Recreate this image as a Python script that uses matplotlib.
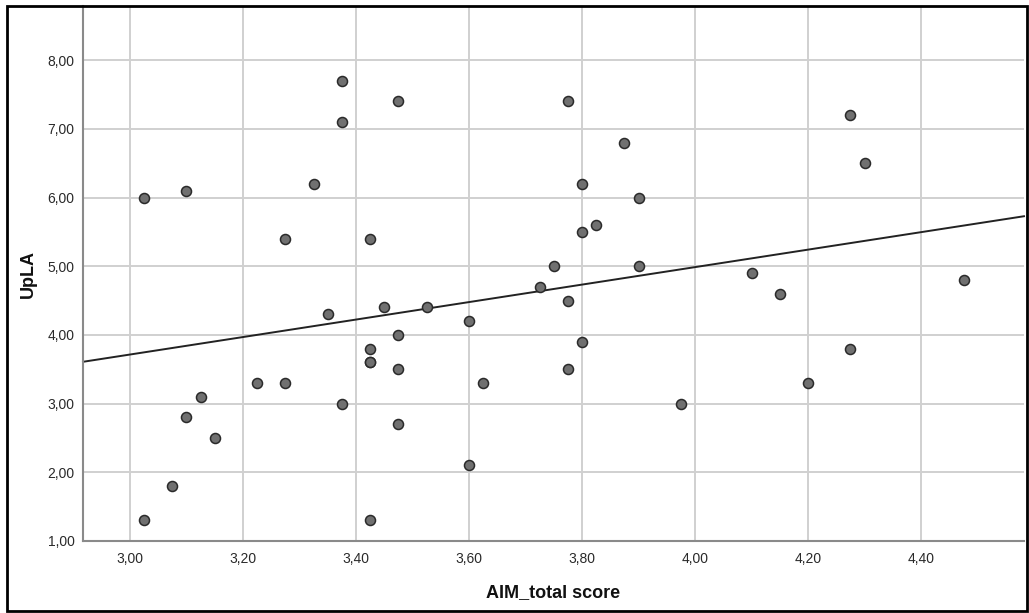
import matplotlib
matplotlib.use("Agg")
import matplotlib.pyplot as plt
from matplotlib.patches import Rectangle
import numpy as np

# Data
aim_total = [3.025, 3.025, 3.075, 3.100, 3.100, 3.125, 3.150, 3.225, 3.275, 3.275,
             3.325, 3.350, 3.375, 3.375, 3.375, 3.425, 3.425, 3.425, 3.425, 3.425,
             3.450, 3.475, 3.475, 3.475, 3.475, 3.525, 3.600, 3.600, 3.625, 3.725,
             3.750, 3.775, 3.775, 3.775, 3.800, 3.800, 3.800, 3.825, 3.875, 3.900,
             3.900, 3.975, 4.100, 4.150, 4.200, 4.275, 4.275, 4.300, 4.475]
upla = [6.0, 1.3, 1.8, 6.1, 2.8, 3.1, 2.5, 3.3, 5.4, 3.3,
        6.2, 4.3, 7.7, 7.1, 3.0, 5.4, 3.8, 3.6, 3.6, 1.3,
        4.4, 7.4, 4.0, 3.5, 2.7, 4.4, 4.2, 2.1, 3.3, 4.7,
        5.0, 7.4, 4.5, 3.5, 6.2, 5.5, 3.9, 5.6, 6.8, 6.0,
        5.0, 3.0, 4.9, 4.6, 3.3, 7.2, 3.8, 6.5, 4.8]

# Fit line: UpLA = intercept + slope * AIM_total
fit_intercept = -0.104
fit_slope = 1.273

x_ticks = [3.0, 3.2, 3.4, 3.6, 3.8, 4.0, 4.2, 4.4]
x_tick_labels = ["3,00", "3,20", "3,40", "3,60", "3,80", "4,00", "4,20", "4,40"]
y_ticks = [1, 2, 3, 4, 5, 6, 7, 8]
y_tick_labels = ["1,00", "2,00", "3,00", "4,00", "5,00", "6,00", "7,00", "8,00"]

plt.rcParams['font.family'] = ['Liberation Sans', 'DejaVu Sans']

fig = plt.figure(figsize=(10.29, 6.13), dpi=100)
ax = fig.add_axes([83 / 1029, 1 - 541 / 613, (1024 - 83) / 1029, (541 - 6) / 613])

xlim = (2.917, 4.582)
ylim = (1.0, 8.79)
ax.set_xlim(*xlim)
ax.set_ylim(*ylim)

ax.set_xticks(x_ticks)
ax.set_xticklabels(x_tick_labels)
ax.set_yticks(y_ticks)
ax.set_yticklabels(y_tick_labels)
ax.tick_params(axis='both', length=0, labelsize=10, colors='#2a2a2a')
ax.tick_params(axis='x', pad=8)
ax.tick_params(axis='y', pad=6)

ax.grid(True, color='#d0d0d0', linewidth=1.4, zorder=0)
ax.set_axisbelow(True)
for s in ['top', 'right']:
    ax.spines[s].set_visible(False)
for s in ['left', 'bottom']:
    ax.spines[s].set_color('#8a8a8a')
    ax.spines[s].set_linewidth(1.5)

xs = np.array(xlim)
ax.plot(xs, fit_intercept + fit_slope * xs, color='#222222', linewidth=1.4, zorder=2,
        clip_on=False)

ax.scatter(aim_total, upla, s=52, facecolor='#707070', edgecolor='#2a2a2a',
           linewidth=1.1, zorder=3)

ax.set_xlabel("AIM_total score", fontsize=13, fontweight='bold', labelpad=13,
              color='#111111')
ax.set_ylabel("UpLA", fontsize=13, fontweight='bold', labelpad=8, color='#111111')

fig.patches.append(Rectangle((7 / 1029, 1 - 611 / 613), (1027 - 7) / 1029, (611 - 6) / 613,
                             transform=fig.transFigure, fill=False, edgecolor='black',
                             linewidth=2, zorder=10))

fig.savefig("out.png", dpi=100)
